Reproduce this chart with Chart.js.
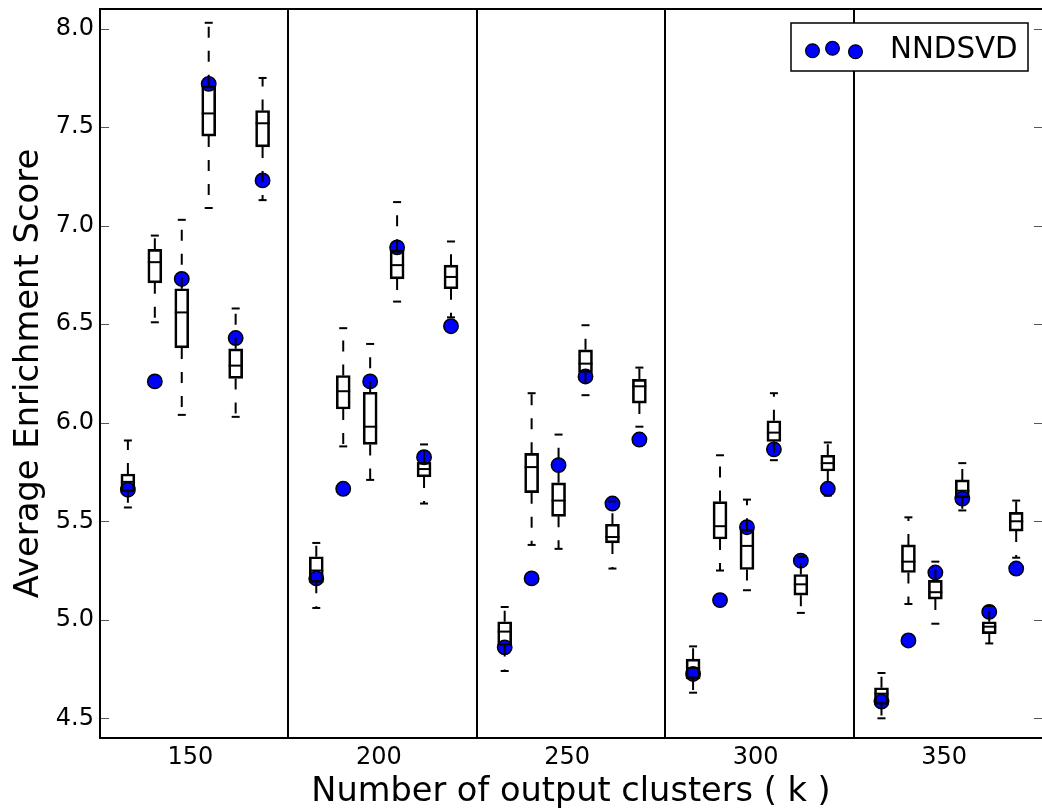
<!DOCTYPE html>
<html><head><meta charset="utf-8">
<script src="https://cdn.jsdelivr.net/npm/chart.js@4.4.1/dist/chart.umd.min.js"></script>
<style>html,body{margin:0;padding:0;background:#fff;overflow:hidden}#wrap{width:1042px;height:809px;position:relative}</style>
</head><body><div id="wrap"><canvas id="c" width="1042" height="809"></canvas></div>
<script>
// ---- data ----
const groups = [150, 200, 250, 300, 350];            // k values (x tick labels)
const boxOffsets = [-16.6, -9.45, -2.3, 4.85, 12.0, 19.15]; // x offset of each box within its k group
const dividers = [176, 226, 276, 326];
const yTicks = [4.5, 5.0, 5.5, 6.0, 6.5, 7.0, 7.5, 8.0];
const seriesName = 'NNDSVD';

const whiskerHigh = [
  5.91, 6.95, 7.03, 8.03, 6.58, 7.75,
  5.39, 6.48, 6.40, 7.12, 5.89, 6.92,
  5.065, 6.15, 5.94, 6.495, 5.60, 6.28,
  4.865, 5.835, 5.61, 6.15, 5.32, 5.90,
  4.73, 5.52, 5.295, 5.795, 5.07, 5.605
];
const q3 = [
  5.74, 6.88, 6.68, 7.71, 6.375, 7.585,
  5.32, 6.24, 6.155, 6.875, 5.80, 6.80,
  4.99, 5.845, 5.695, 6.37, 5.485, 6.22,
  4.80, 5.60, 5.46, 6.01, 5.23, 5.835,
  4.655, 5.38, 5.20, 5.71, 4.99, 5.545
];
const median = [
  5.70, 6.815, 6.56, 7.57, 6.29, 7.52,
  5.25, 6.16, 5.98, 6.80, 5.765, 6.74,
  4.94, 5.775, 5.605, 6.30, 5.42, 6.185,
  4.755, 5.475, 5.375, 5.95, 5.18, 5.795,
  4.625, 5.295, 5.14, 5.655, 4.965, 5.50
];
const q1 = [
  5.65, 6.71, 6.38, 7.455, 6.225, 7.40,
  5.19, 6.07, 5.89, 6.73, 5.725, 6.68,
  4.87, 5.645, 5.525, 6.255, 5.39, 6.10,
  4.70, 5.41, 5.255, 5.905, 5.125, 5.755,
  4.57, 5.24, 5.105, 5.62, 4.93, 5.45
];
const whiskerLow = [
  5.57, 6.51, 6.04, 7.09, 6.03, 7.13,
  5.06, 5.88, 5.71, 6.615, 5.59, 6.535,
  4.74, 5.38, 5.36, 6.14, 5.26, 5.98,
  4.63, 5.25, 5.15, 5.81, 5.035, 5.63,
  4.50, 5.08, 4.98, 5.555, 4.88, 5.315
];
const nndsvd = [
  5.66, 6.21, 6.73, 7.72, 6.43, 7.23,
  5.21, 5.665, 6.21, 6.89, 5.825, 6.49,
  4.86, 5.21, 5.785, 6.235, 5.59, 5.915,
  4.725, 5.10, 5.47, 5.865, 5.30, 5.665,
  4.585, 4.895, 5.24, 5.615, 5.04, 5.26
];

// ---- build datasets ----
const xs = [];
groups.forEach(k => boxOffsets.forEach(o => xs.push(+(k + o).toFixed(3))));

const boxData = xs.map((x, i) => ({x, y: [q1[i], q3[i]]}));
const medianData = xs.map((x, i) => ({x, y: median[i]}));
const capData = [];
xs.forEach((x, i) => { capData.push({x, y: whiskerHigh[i]}); capData.push({x, y: whiskerLow[i]}); });
const whiskerData = [];
xs.forEach((x, i) => {
  whiskerData.push({x, y: q3[i]}, {x, y: whiskerHigh[i]}, {x, y: null});
  whiskerData.push({x, y: q1[i]}, {x, y: whiskerLow[i]}, {x, y: null});
});
const pointData = xs.map((x, i) => ({x, y: nndsvd[i]}));

const FONT = 'DejaVu Sans';

const noPad = s => { s.paddingTop = 0; s.paddingBottom = 0; s.paddingLeft = 0; s.paddingRight = 0; };

const decor = {
  id: 'decor',
  beforeDatasetsDraw(chart) {
    const {ctx, chartArea: a, scales: {x}} = chart;
    ctx.save();
    ctx.strokeStyle = '#000'; ctx.lineWidth = 2;
    dividers.forEach(d => {
      const px = Math.round(x.getPixelForValue(d));
      ctx.beginPath(); ctx.moveTo(px, a.top); ctx.lineTo(px, a.bottom); ctx.stroke();
    });
    ctx.restore();
  },
  afterDatasetsDraw(chart) {
    const {ctx, chartArea: a, scales: {y}} = chart;
    ctx.save();
    ctx.strokeStyle = '#555'; ctx.lineWidth = 1;
    yTicks.forEach(v => {
      const py = Math.round(y.getPixelForValue(v)) + 0.5;
      ctx.beginPath(); ctx.moveTo(a.left, py); ctx.lineTo(a.left + 9, py); ctx.stroke();
      ctx.beginPath(); ctx.moveTo(a.right, py); ctx.lineTo(a.right - 8, py); ctx.stroke();
    });
    ctx.strokeStyle = '#000'; ctx.lineWidth = 2;
    ctx.beginPath();
    ctx.moveTo(a.right + 1, a.top); ctx.lineTo(a.left, a.top); ctx.lineTo(a.left, a.bottom); ctx.lineTo(a.right + 1, a.bottom);
    ctx.stroke();
    ctx.restore();
  },
  afterDraw(chart) {
    const {ctx, chartArea: a} = chart;
    const L = a.right - 251, T = a.top + 14, W = 237, H = 48;
    ctx.save();
    ctx.fillStyle = '#fff'; ctx.fillRect(L, T, W, H);
    ctx.strokeStyle = '#000'; ctx.lineWidth = 1.5; ctx.strokeRect(L, T, W, H);
    [[21.5, 27.7], [41.5, 25.3], [64.5, 28.7]].forEach(([dx, dy]) => {
      ctx.beginPath(); ctx.arc(L + dx, T + dy, 6.9, 0, Math.PI * 2);
      ctx.fillStyle = '#0000ff'; ctx.fill();
      ctx.lineWidth = 1.2; ctx.strokeStyle = '#000'; ctx.stroke();
    });
    ctx.fillStyle = '#000'; ctx.font = '29.3px "' + FONT + '"';
    ctx.textBaseline = 'alphabetic'; ctx.textAlign = 'left';
    ctx.fillText(seriesName, L + 99, T + 35);
    ctx.restore();
  }
};

new Chart(document.getElementById('c'), {
  type: 'scatter',
  data: {
    datasets: [
      {type: 'bar', label: 'box', data: boxData, backgroundColor: 'rgba(0,0,0,0)', borderColor: '#000',
       borderWidth: 2, borderSkipped: false, barThickness: 14, order: 0},
      {type: 'scatter', label: 'median', data: medianData, pointStyle: 'line', pointRadius: 7,
       pointBorderWidth: 2, borderColor: '#000', backgroundColor: '#000', order: 0},
      {type: 'scatter', label: 'caps', data: capData, pointStyle: 'line', pointRadius: 4,
       pointBorderWidth: 2, borderColor: '#000', backgroundColor: '#000', order: 0},
      {type: 'line', label: 'whiskers', data: whiskerData, borderColor: '#000', borderWidth: 2,
       borderDash: [11, 13], pointRadius: 0, spanGaps: false, fill: false, tension: 0, order: 0},
      {type: 'scatter', label: seriesName, data: pointData, pointRadius: 7.2, pointBorderWidth: 1.5,
       backgroundColor: '#0000ff', borderColor: '#000', order: 5}
    ]
  },
  options: {
    responsive: false, animation: false, devicePixelRatio: 1,
    layout: {autoPadding: false, padding: {top: 9, left: 0, right: 0, bottom: 0}},
    plugins: {legend: {display: false}, tooltip: {enabled: false}},
    scales: {
      x: {
        type: 'linear', min: 126, max: 376, offset: false,
        grid: {display: false, drawTicks: false}, border: {display: false},
        afterBuildTicks: s => { s.ticks = groups.map(v => ({value: v})); },
        afterFit: s => { s.height = 71; noPad(s); },
        ticks: {font: {family: FONT, size: 24}, color: '#000', padding: 5, maxRotation: 0, autoSkip: false,
                callback: v => String(v)},
        title: {display: true, text: 'Number of output clusters ( k )', color: '#000',
                font: {family: FONT, size: 33.6, lineHeight: 1}, padding: {top: 0, bottom: 0}}
      },
      y: {
        type: 'linear', min: 4.4, max: 8.1,
        grid: {display: false, drawTicks: false}, border: {display: false},
        afterBuildTicks: s => { s.ticks = yTicks.map(v => ({value: v})); },
        afterFit: s => { s.width = 100; noPad(s); },
        ticks: {font: {family: FONT, size: 24}, color: '#000', padding: 6, callback: v => Number(v).toFixed(1)},
        title: {display: true, text: 'Average Enrichment Score', color: '#000',
                font: {family: FONT, size: 33.8, lineHeight: 1}, padding: {top: 12, bottom: 0}}
      }
    }
  },
  plugins: [decor]
});
</script>
</body></html>
